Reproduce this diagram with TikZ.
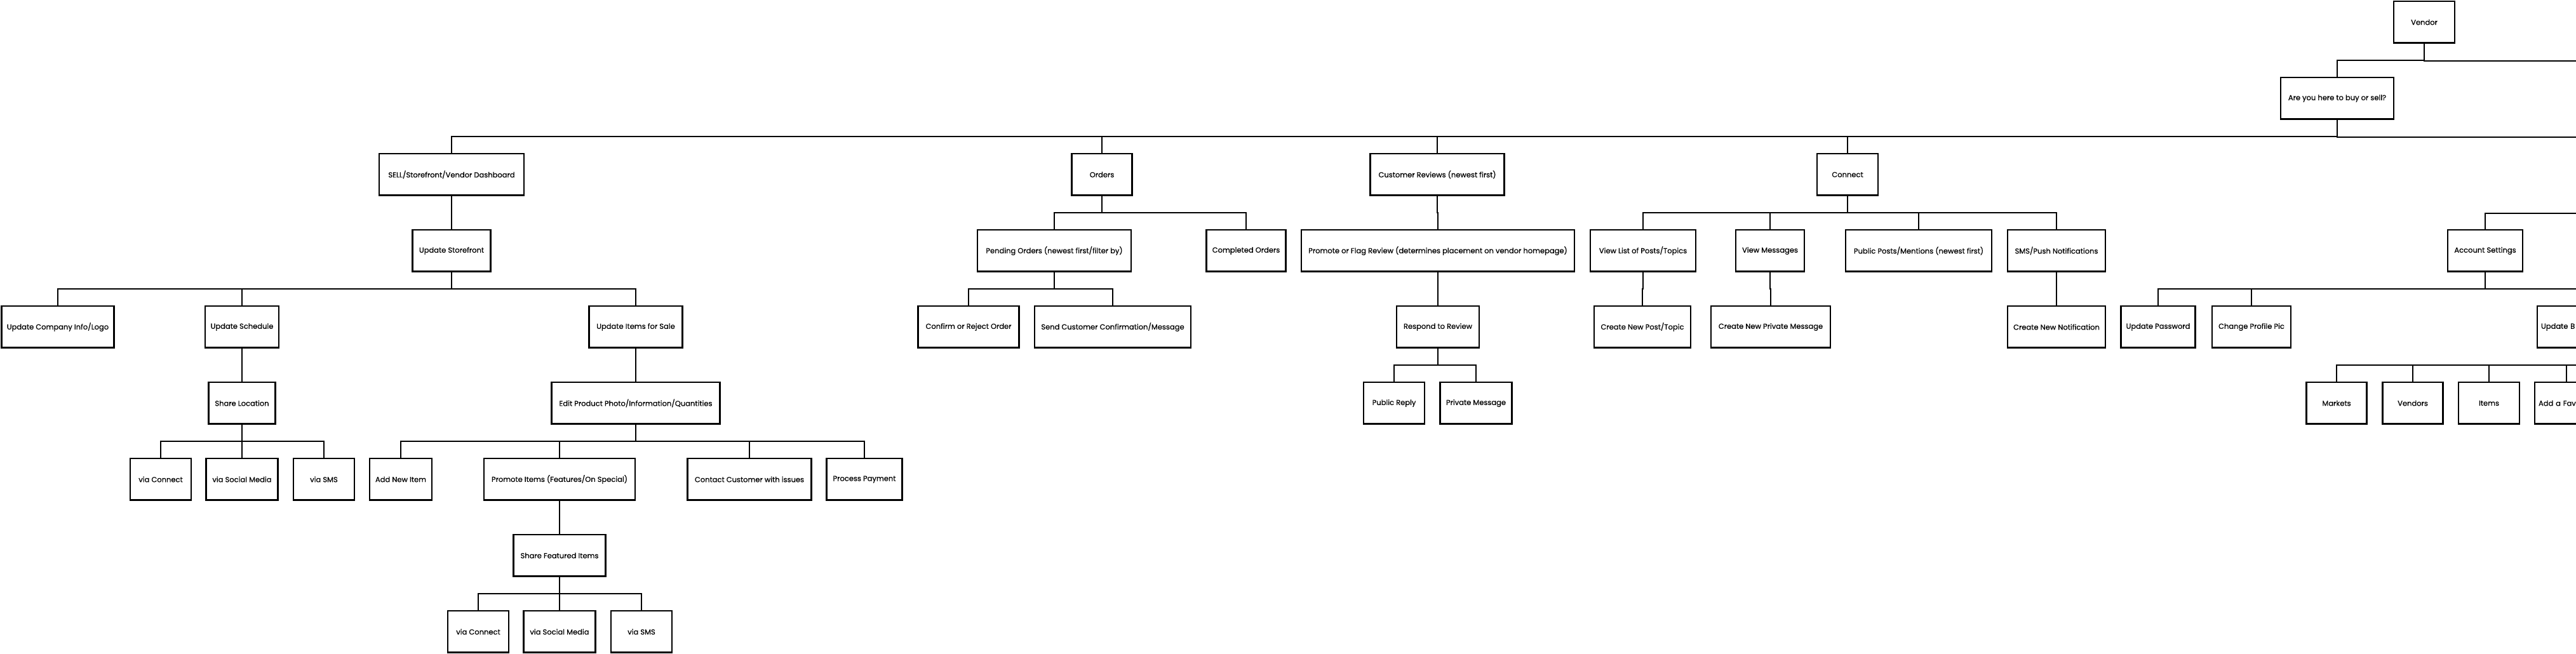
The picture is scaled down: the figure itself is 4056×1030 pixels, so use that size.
\documentclass[tikz,border=0pt]{standalone}
\usepackage{fontspec}
\setmainfont{Poppins}
\newfontfamily\boxfont{Poppins}[FakeBold=0.6]

\begin{document}
\begin{tikzpicture}[x=1pt,y=-1pt,
    box/.style={draw, line width=2.2pt, fill=white, minimum height=66pt, inner xsep=6pt,
        font=\boxfont\fontsize{11.5}{14}\selectfont,
        path picture={\draw[line width=4pt] (path picture bounding box.south west) -- (path picture bounding box.south east);}},
    link/.style={line width=1.8pt}]
    \useasboundingbox (0,0) rectangle (4056,1030);
    \clip (0,0) rectangle (4056,1030);

    % Top of the tree
    \node[box, minimum width=96pt] (vendor) at (3817,35) {Vendor};
    \node[box, minimum width=178pt] (ask) at (3680,155) {Are you here to buy or sell?};

    % Sell side
    \node[box, minimum width=228pt] (sell) at (711,275) {SELL/Storefront/Vendor Dashboard};
    \node[box, minimum width=95pt] (orders) at (1735,275) {Orders};
    \node[box, minimum width=211pt] (reviews) at (2263,275) {Customer Reviews (newest first)};
    \node[box, minimum width=96pt] (connect) at (2909,275) {Connect};

    \node[box, minimum width=123pt] (storefront) at (711,395) {Update Storefront};
    \node[box, minimum width=242pt] (pending) at (1660,395) {Pending Orders (newest first/filter by)};
    \node[box, minimum width=125pt] (completed) at (1962,395) {Completed Orders};
    \node[box, minimum width=430pt] (flag) at (2264,395) {Promote or Flag Review (determines placement on vendor homepage)};
    \node[box, minimum width=166pt] (viewposts) at (2587,395) {View List of Posts/Topics};
    \node[box, minimum width=108pt] (viewmsgs) at (2787,395) {View Messages};
    \node[box, minimum width=230pt] (mentions) at (3021,395) {Public Posts/Mentions (newest first)};
    \node[box, minimum width=154pt] (smspush) at (3238,395) {SMS/Push Notifications};
    \node[box, minimum width=118pt] (account) at (3913,395) {Account Settings};

    \node[box, minimum width=177pt] (company) at (91,515) {Update Company Info/Logo};
    \node[box, minimum width=116pt] (schedule) at (381,515) {Update Schedule};
    \node[box, minimum width=147pt] (items) at (1001,515) {Update Items for Sale};
    \node[box, minimum width=159pt] (confirm) at (1525,515) {Confirm or Reject Order};
    \node[box, minimum width=246pt] (sendmsg) at (1752,515) {Send Customer Confirmation/Message};
    \node[box, minimum width=130pt] (respond) at (2264,515) {Respond to Review};
    \node[box, minimum width=152pt] (newpost) at (2586,515) {Create New Post/Topic};
    \node[box, minimum width=188pt] (newpm) at (2788,515) {Create New Private Message};
    \node[box, minimum width=154pt] (newnotif) at (3238,515) {Create New Notification};
    \node[box, minimum width=117pt] (password) at (3398,515) {Update Password};
    \node[box, minimum width=124pt] (profilepic) at (3545,515) {Change Profile Pic};
    \node[box, minimum width=148pt, text width=136pt, align=left] (updatebm) at (4069,515) {Update B};

    \node[box, minimum width=105pt] (shareloc) at (381,635) {Share Location};
    \node[box, minimum width=265pt] (editprod) at (1001,635) {Edit Product Photo/Information/Quantities};
    \node[box, minimum width=96pt] (pubreply) at (2195,635) {Public Reply};
    \node[box, minimum width=113pt] (privmsg) at (2324,635) {Private Message};
    \node[box, minimum width=95pt] (markets) at (3679,635) {Markets};
    \node[box, minimum width=95pt] (vendors) at (3799,635) {Vendors};
    \node[box, minimum width=96pt] (itemsfav) at (3919,635) {Items};
    \node[box, minimum width=100pt, text width=88pt, align=left] (addfav) at (4041,635) {Add a Fav};

    \node[box, minimum width=96pt] (locconnect) at (253,755) {via Connect};
    \node[box, minimum width=113pt] (locsocial) at (381,755) {via Social Media};
    \node[box, minimum width=96pt] (locsms) at (510,755) {via SMS};
    \node[box, minimum width=98pt] (addnew) at (631,755) {Add New Item};
    \node[box, minimum width=238pt] (promote) at (881,755) {Promote Items (Features/On Special)};
    \node[box, minimum width=195pt] (contact) at (1180,755) {Contact Customer with issues};
    \node[box, minimum width=119pt] (payment) at (1361,755) {Process Payment};

    \node[box, minimum width=145pt] (sharefeat) at (881,875) {Share Featured Items};

    \node[box, minimum width=96pt] (featconnect) at (753,995) {via Connect};
    \node[box, minimum width=113pt] (featsocial) at (881,995) {via Social Media};
    \node[box, minimum width=96pt] (featsms) at (1010,995) {via SMS};

    % Branches that leave the picture on the right
    \coordinate (buyend) at (4100,96);
    \coordinate (rowend) at (4100,216);
    \coordinate (acctend) at (4100,336);
    \draw[link] (vendor.south) |- (buyend);
    \draw[link] (ask.south) |- (rowend);
    \draw[link] (account.north) |- (acctend);

    % Connectors
    \foreach \p/\c in {vendor/ask, ask/sell, ask/orders, ask/reviews, ask/connect,
        sell/storefront, storefront/company, storefront/schedule, storefront/items,
        schedule/shareloc, shareloc/locconnect, shareloc/locsocial, shareloc/locsms,
        items/editprod, editprod/addnew, editprod/promote, editprod/contact, editprod/payment,
        promote/sharefeat, sharefeat/featconnect, sharefeat/featsocial, sharefeat/featsms,
        orders/pending, orders/completed, pending/confirm, pending/sendmsg,
        reviews/flag, flag/respond, respond/pubreply, respond/privmsg,
        connect/viewposts, connect/viewmsgs, connect/mentions, connect/smspush,
        viewposts/newpost, viewmsgs/newpm, smspush/newnotif,
        account/password, account/profilepic, account/updatebm,
        updatebm/markets, updatebm/vendors, updatebm/itemsfav, updatebm/addfav}
        \draw[link] (\p.south) -- ++(0,26) -| (\c.north);
\end{tikzpicture}
\end{document}
